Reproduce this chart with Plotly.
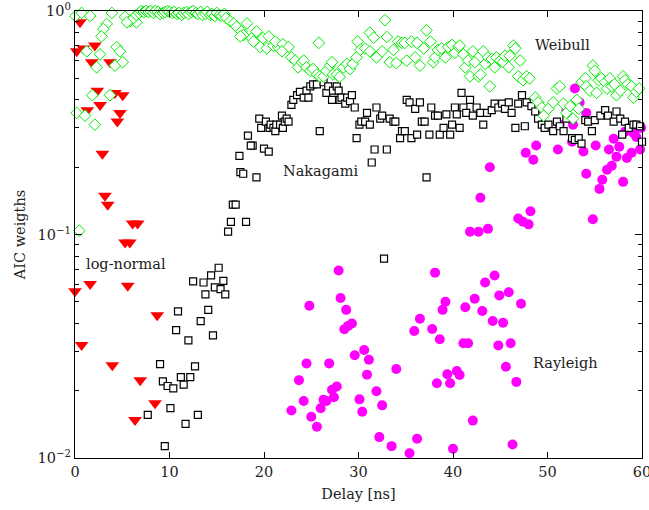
import math
import plotly.graph_objects as go

# ---------------- data ----------------
weibull_x = [0.05, 0.7, 1.6, 3.9, 3.35, 3.0, 2.8, 5.3, 5.8, 6.5, 5.5,
             1.24, 2.65, 2.3, 4.4, 4.76, 4.23, 5.05, 1.83, 3.7, 0.18, 1.06, 2.1, 0.45,
             6.2, 6.5, 6.8, 7.0, 7.3, 7.5, 7.8, 8.0, 8.3, 8.5, 8.8, 9.0, 9.3, 9.5, 9.8,
             10.0, 10.3, 10.5, 10.8, 11.0, 11.3, 11.5, 11.8, 12.0, 12.3, 12.5, 12.8,
             13.0, 13.3, 13.5, 13.8, 14.0, 14.3, 14.5, 14.8, 15.0, 15.3, 15.5, 15.8,
             16.0, 16.4, 16.8, 17.1, 17.6, 18.2, 17.8, 17.5, 19.2, 18.7, 18.9, 19.9,
             20.5, 19.6, 20.3, 21.0, 21.5,
             21.2, 22.0, 22.6, 21.9,
             22.9, 23.3, 23.6, 24.0, 24.2, 24.5, 24.9, 25.2, 25.6, 25.9, 26.3, 26.6,
             27.0, 27.2, 27.3, 27.7, 28.0, 28.4, 28.8, 29.1, 29.4, 29.8, 25.8,
             29.9, 30.2, 30.7, 31.2, 31.6, 31.2, 31.9, 32.5, 32.8, 33.0, 33.3, 33.7,
             34.0, 34.2, 34.6, 34.9, 35.1, 35.6, 36.0, 36.2, 36.5, 36.9, 37.2, 37.6,
             37.9, 38.1, 38.4, 38.8, 39.2, 39.5, 39.9, 40.2, 40.6,
             40.7, 41.1, 41.3, 41.6, 41.8, 42.1, 42.3, 42.7, 42.9, 43.2,
             43.4, 43.7, 43.9, 44.1, 44.4, 44.6, 45.0, 45.3, 45.5, 45.9,
             46.0, 46.4, 46.6, 46.9, 47.1, 47.4, 47.8, 48.1, 48.7, 49.0,
             49.4, 49.6, 50.1, 50.6, 51.0, 51.3, 51.7, 52.0, 52.4, 52.7,
             53.1, 53.3, 53.6, 54.0, 54.1, 54.5, 54.8, 55.0, 55.2, 55.4,
             55.7, 56.1, 56.3, 56.6, 56.8, 57.1, 57.3, 57.7, 58.0, 58.2,
             58.5, 58.9, 59.1, 59.4, 59.7]
weibull_y = [0.95, 0.98, 0.95, 0.98, 0.875, 0.83, 0.77, 0.94, 0.90, 0.89, 0.89,
             0.66, 0.64, 0.56, 0.69, 0.66, 0.57, 0.59, 0.42, 0.42, 0.35, 0.34, 0.31, 0.104,
             0.93, 0.96, 0.98, 1.0, 0.99, 1.0, 0.99, 1.0, 0.98, 1.0, 0.99, 0.97, 0.98, 0.99, 1.0,
             0.99, 0.98, 0.99, 0.97, 0.98, 0.96, 0.98, 0.99, 0.97, 0.99, 1.0, 0.98,
             0.97, 0.99, 0.96, 0.97, 0.99, 0.96, 0.97, 0.95, 0.98, 0.96, 0.95, 0.97,
             0.93, 0.90, 0.88, 0.85, 0.81, 0.88, 0.78, 0.77, 0.81, 0.755, 0.73, 0.755,
             0.77, 0.69, 0.68, 0.70, 0.69,
             0.73, 0.71, 0.69, 0.66,
             0.62, 0.60, 0.56, 0.59, 0.60, 0.56, 0.54, 0.55, 0.52, 0.51, 0.51, 0.54,
             0.57, 0.59, 0.52, 0.52, 0.507, 0.56, 0.58, 0.55, 0.58, 0.62, 0.72,
             0.73, 0.67, 0.68, 0.80, 0.76, 0.66, 0.62, 0.66, 0.91, 0.765, 0.59, 0.67,
             0.585, 0.73, 0.72, 0.72, 0.60, 0.73, 0.62, 0.72, 0.57, 0.68, 0.82, 0.73,
             0.59, 0.62, 0.67, 0.68, 0.62, 0.69, 0.705, 0.65, 0.69,
             0.70, 0.64, 0.56, 0.60, 0.51, 0.66, 0.59, 0.51, 0.52, 0.66,
             0.58, 0.62, 0.46, 0.61, 0.56, 0.62, 0.60, 0.59, 0.63, 0.56,
             0.63, 0.70, 0.68, 0.51, 0.60, 0.49, 0.51, 0.50, 0.41, 0.39,
             0.37, 0.34, 0.365, 0.39, 0.45, 0.46, 0.385, 0.35, 0.375, 0.33,
             0.40, 0.365, 0.48, 0.50, 0.46, 0.44, 0.57, 0.54, 0.43, 0.49,
             0.50, 0.48, 0.45, 0.50, 0.46, 0.47, 0.42, 0.44, 0.51, 0.49,
             0.47, 0.46, 0.41, 0.435, 0.45]

nakagami_x = [16.2, 15.2, 14.4, 12.5, 13.6, 15.7, 14.8, 15.4, 13.8, 15.9, 10.9, 14.1,
              13.3, 10.7, 14.6, 12.0, 9.0, 12.7, 11.2, 12.2, 9.3, 9.8, 10.4, 11.5,
              10.1, 7.7, 13.0, 11.7, 9.5,
              16.5, 16.7, 17.0, 18.1, 17.4, 17.5, 17.8, 19.2, 18.3, 18.8, 18.6, 20.0, 20.5,
              19.5, 19.7, 20.2, 20.6, 20.7, 21.0, 21.2, 21.3, 21.7, 21.9, 22.0, 22.2, 22.4, 22.6,
              22.9, 23.1, 23.5, 23.8, 24.2, 24.5, 24.7, 24.9, 25.2, 25.6, 25.9, 26.3, 26.6,
              26.8, 27.2, 27.3, 27.7, 27.9, 28.0, 28.2, 28.6, 28.8, 29.1, 29.3, 29.6,
              29.8, 30.1, 30.3, 30.9, 30.7, 31.2, 31.4, 31.7, 31.9, 32.3, 32.5, 33.0,
              33.3, 33.7, 33.9, 34.4, 34.6, 34.9, 35.1, 35.4, 35.6, 36.0, 36.2, 36.5,
              36.7, 37.0, 37.2, 37.5, 37.7, 38.1, 38.4, 38.6, 39.0, 39.3, 39.7, 39.9,
              40.2, 40.4, 40.7, 32.7,
              40.9, 41.1, 41.4, 41.8, 42.1, 42.5, 42.9, 43.2, 43.6, 44.1,
              44.4, 44.8, 45.2, 45.5, 45.9, 46.2, 46.6, 46.9, 47.3, 47.6,
              47.8, 48.3, 48.7, 49.0, 49.4, 49.7, 50.1, 50.6, 51.0, 51.3,
              51.7, 52.0, 52.6, 52.9, 53.3, 53.6, 54.0, 54.3, 54.7, 55.0,
              55.6, 56.1, 56.4, 57.0, 57.3, 57.7, 57.9, 58.2, 58.6, 59.1,
              59.4, 59.8, 60.0]
nakagami_y = [0.103, 0.071, 0.0656, 0.0617, 0.061, 0.062, 0.058, 0.057, 0.054, 0.054, 0.0453, 0.046,
              0.041, 0.0373, 0.0354, 0.0336, 0.0263, 0.0257, 0.023, 0.023, 0.022, 0.021, 0.0205, 0.0213,
              0.0167, 0.0156, 0.0156, 0.0142, 0.0113,
              0.114, 0.136, 0.136, 0.114, 0.225, 0.19, 0.187, 0.18, 0.277, 0.25, 0.25, 0.242, 0.235,
              0.33, 0.30, 0.32, 0.30, 0.31, 0.30, 0.29, 0.31, 0.31, 0.34, 0.30, 0.32, 0.33, 0.32,
              0.38, 0.40, 0.42, 0.435, 0.41, 0.44, 0.41, 0.46, 0.47, 0.47, 0.29, 0.48, 0.43,
              0.46, 0.40, 0.44, 0.46, 0.44, 0.40, 0.41, 0.385, 0.41, 0.395, 0.42, 0.37,
              0.27, 0.31, 0.32, 0.35, 0.32, 0.31, 0.21, 0.24, 0.37, 0.33, 0.34, 0.24,
              0.33, 0.32, 0.32, 0.27, 0.29, 0.29, 0.40, 0.39, 0.27, 0.365, 0.28, 0.39,
              0.32, 0.32, 0.18, 0.28, 0.37, 0.34, 0.34, 0.28, 0.30, 0.345, 0.28, 0.31,
              0.37, 0.345, 0.30, 0.078,
              0.43, 0.37, 0.35, 0.40, 0.34, 0.37, 0.35, 0.31, 0.35, 0.36,
              0.385, 0.37, 0.385, 0.365, 0.39, 0.35, 0.30, 0.385, 0.42, 0.305,
              0.39, 0.375, 0.355, 0.33, 0.31, 0.30, 0.31, 0.29, 0.32, 0.305,
              0.29, 0.33, 0.27, 0.265, 0.27, 0.255, 0.325, 0.32, 0.29, 0.325,
              0.34, 0.36, 0.34, 0.32, 0.355, 0.33, 0.28, 0.32, 0.30, 0.31,
              0.31, 0.305, 0.26]

lognormal_x = [0.53, 0.18, 0.88, 2.1, 1.77, 3.7, 2.36, 4.23, 5.05, 1.3, 2.65, 4.76, 4.48,
               2.9, 3.17, 3.46, 6.1, 6.63, 5.3, 5.8, 1.6, 0.0, 5.58, 8.7, 0.7, 3.95,
               6.9, 8.47, 6.35]
lognormal_y = [0.89, 0.66, 0.68, 0.70, 0.59, 0.59, 0.44, 0.43, 0.42, 0.36, 0.38, 0.35, 0.32,
               0.23, 0.149, 0.136, 0.112, 0.112, 0.092, 0.092, 0.060, 0.0557, 0.059, 0.0435, 0.032, 0.026,
               0.0223, 0.0176, 0.0148]

rayleigh_x = [27.9, 24.8, 28.1, 28.7, 29.3, 28.9, 28.5, 30.6, 29.6, 31.1, 34.0, 30.9,
              24.5, 26.9, 23.7, 27.7, 27.2, 27.4, 26.3, 26.6, 24.2, 31.9, 26.0, 22.9,
              30.1, 30.4, 32.5, 25.0, 25.6, 32.2, 33.5, 35.4, 36.2, 40.0, 38.1, 39.2,
              38.9, 36.5, 35.9, 37.8, 38.6, 39.4, 40.4, 40.7, 38.3, 39.7,
              44.4, 43.4, 44.9, 45.9, 42.3, 41.3, 43.1, 47.2, 44.2, 45.3, 41.1, 41.6,
              44.8, 46.1, 45.6, 46.7, 42.1, 46.3,
              43.9, 42.9, 41.8, 42.7, 43.7, 46.9, 47.4, 48.0, 48.2, 47.7, 48.5, 48.8,
              51.1, 52.9, 53.4, 54.1, 52.6, 52.7, 53.8, 54.1, 55.1, 54.8, 55.8, 55.5,
              56.3, 56.8, 56.5, 57.0, 57.3, 57.6, 58.0, 58.2, 58.4, 58.9, 59.1, 59.4,
              59.8, 59.9, 49.2, 51.3, 52.0]
rayleigh_y = [0.069, 0.048, 0.052, 0.046, 0.040, 0.039, 0.0377, 0.0304, 0.0288, 0.0275, 0.025, 0.0236,
              0.0265, 0.0265, 0.0223, 0.0209, 0.0202, 0.0187, 0.0182, 0.018, 0.018, 0.0199, 0.0167, 0.0163,
              0.0183, 0.0161, 0.0172, 0.0153, 0.0138, 0.0124, 0.0113, 0.0105, 0.0122, 0.011, 0.0675, 0.050,
              0.046, 0.042, 0.037, 0.0378, 0.034, 0.0237, 0.0245, 0.0235, 0.0216, 0.0216,
              0.0656, 0.061, 0.0534, 0.0552, 0.0516, 0.0473, 0.0455, 0.049, 0.041, 0.0403, 0.0326, 0.0326,
              0.0319, 0.0326, 0.0256, 0.0219, 0.0147, 0.0115,
              0.20, 0.146, 0.103, 0.103, 0.106, 0.118, 0.114, 0.111, 0.127, 0.232, 0.216, 0.25,
              0.24, 0.45, 0.39, 0.35, 0.26, 0.31, 0.235, 0.187, 0.25, 0.117, 0.176, 0.16,
              0.195, 0.203, 0.24, 0.268, 0.223, 0.247, 0.172, 0.288, 0.22, 0.232, 0.285, 0.273,
              0.24, 0.30, 0.34, 0.31, 0.36]

x_ticks = [0, 10, 20, 30, 40, 50, 60]
y_ticks = [0.01, 0.1, 1]
y_tick_labels = ["10<sup>−2</sup>", "10<sup>−1</sup>", "10<sup>0</sup>"]
series_labels = ["Weibull", "Nakagami", "log-normal", "Rayleigh"]

FONT = "DejaVu Serif, Liberation Serif, serif"
TXT = "#222222"
FS = 14.5

fig = go.Figure()
fig.add_trace(go.Scatter(x=rayleigh_x, y=rayleigh_y, mode="markers", cliponaxis=False,
                         marker=dict(symbol="circle", size=10, color="#ff00ff",
                                     line=dict(width=0))))
fig.add_trace(go.Scatter(x=lognormal_x, y=lognormal_y, mode="markers", cliponaxis=False,
                         marker=dict(symbol="triangle-down", size=12, color="#ff0000",
                                     line=dict(width=0))))
fig.add_trace(go.Scatter(x=nakagami_x, y=nakagami_y, mode="markers", cliponaxis=False,
                         marker=dict(symbol="square", size=7, color="white",
                                     line=dict(width=1.2, color="black"))))
fig.add_trace(go.Scatter(x=weibull_x, y=weibull_y, mode="markers", cliponaxis=False,
                         marker=dict(symbol="diamond", size=9, color="white",
                                     line=dict(width=1, color="#00ee00"))))

label_pos = [(51.6, 0.705), (26.0, 0.193), (5.4, 0.0735), (51.9, 0.0265)]
for name, (lx, ly) in zip(series_labels, label_pos):
    fig.add_annotation(x=lx, y=math.log10(ly), xref="x", yref="y", text=name,
                       showarrow=False, font=dict(family=FONT, size=FS, color=TXT))

fig.update_layout(
    width=649, height=510,
    margin=dict(l=75, r=7, t=11, b=52),
    plot_bgcolor="white", paper_bgcolor="white",
    showlegend=False,
    font=dict(family=FONT, size=FS, color=TXT),
)
fig.update_xaxes(range=[0, 60], tickvals=x_ticks, ticks="inside", ticklen=6,
                 tickcolor="black", ticklabeloverflow="allow",
                 showline=True, linecolor="black", linewidth=1.2, mirror="ticks",
                 showgrid=False, zeroline=False, automargin=False,
                 title=dict(text="Delay [ns]", font=dict(family=FONT, size=FS, color=TXT), standoff=10),
                 tickfont=dict(family=FONT, size=FS, color=TXT))
minor_vals = [m * 10 ** e for e in (-2, -1) for m in range(2, 10)]
fig.update_yaxes(type="log", range=[-2, 0], tickvals=y_ticks, ticktext=y_tick_labels,
                 ticks="inside", ticklen=7, tickcolor="black", ticklabeloverflow="allow",
                 minor=dict(tickvals=minor_vals, ticks="inside", ticklen=4, showgrid=False,
                            tickcolor="black"),
                 showline=True, linecolor="black", linewidth=1.2, mirror="ticks",
                 showgrid=False, zeroline=False, automargin=False,
                 title=dict(text="AIC weigths", font=dict(family=FONT, size=FS, color=TXT), standoff=8),
                 tickfont=dict(family=FONT, size=FS, color=TXT))

# remove the browser's default 8px body margin so the 649x510 figure fills the window
fig.write_html("out.html", config={"displayModeBar": False},
               post_script="document.body.style.margin='0px';")
